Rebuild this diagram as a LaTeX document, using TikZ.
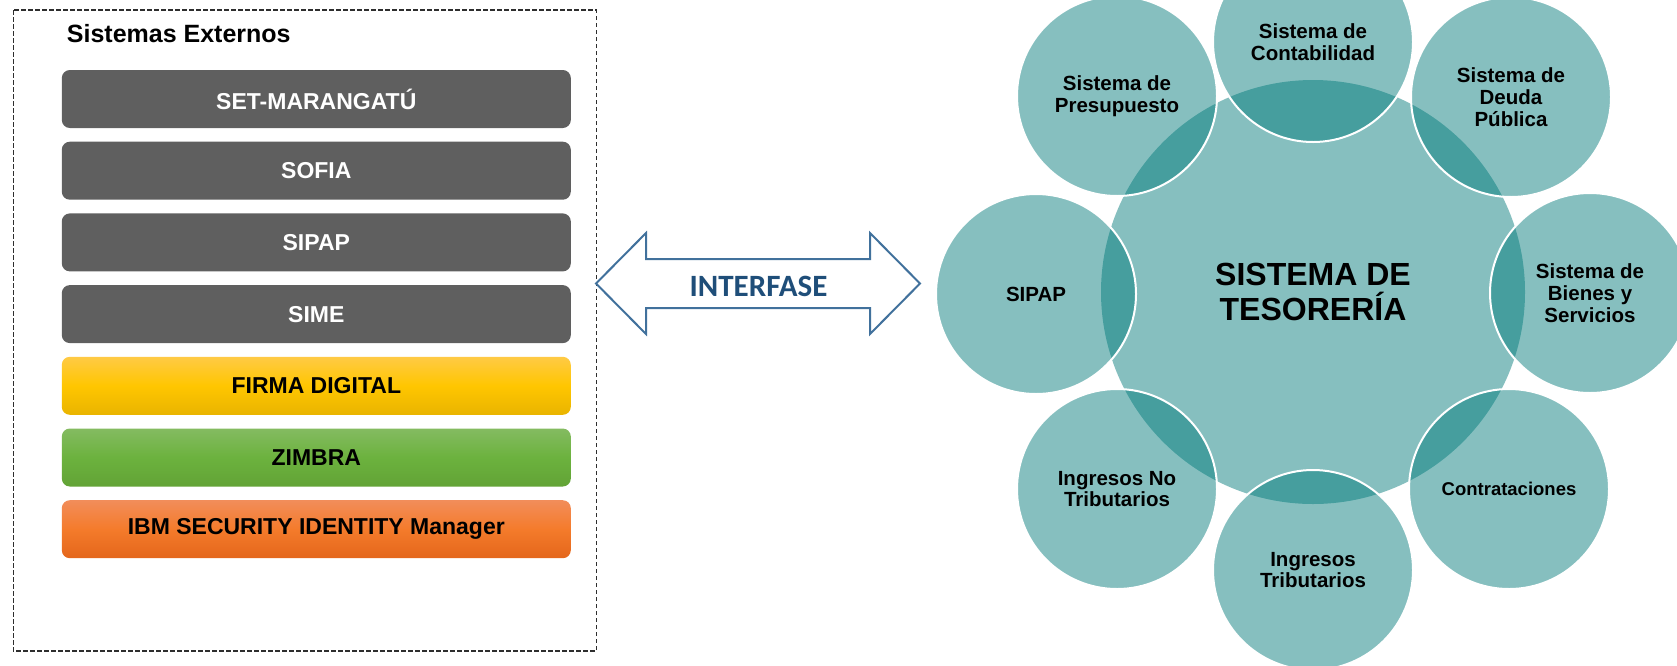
\documentclass[tikz,border=0pt]{standalone}
\usepackage{fontspec}
\setmainfont{Liberation Sans}
\newfontfamily\calibrifont{Carlito}
\usetikzlibrary{positioning}

\definecolor{boxgray}{HTML}{5F5F5F}
\definecolor{circfill}{RGB}{0,121,121}
\definecolor{arrowline}{HTML}{41719C}
\definecolor{arrowtext}{HTML}{1F4E79}
\definecolor{framegray}{HTML}{2E2E2E}
\definecolor{yelTop}{HTML}{FFCA45}
\definecolor{yelMid}{HTML}{FFC600}
\definecolor{yelBot}{HTML}{E9B400}
\definecolor{grnTop}{HTML}{84BB61}
\definecolor{grnMid}{HTML}{6CB23E}
\definecolor{grnBot}{HTML}{62A336}
\definecolor{orgTop}{HTML}{F28D5A}
\definecolor{orgMid}{HTML}{F47B2B}
\definecolor{orgBot}{HTML}{E4661B}

\begin{document}
\begin{tikzpicture}[x=1pt,y=-1pt,node distance=13.3pt]

      \tikzstyle{sysbox}=[shape=rectangle,rounded corners=8pt,minimum width=509pt,minimum height=58pt,inner sep=0pt,align=center,font=\fontsize{23}{26}\selectfont\bfseries]
      \tikzstyle{graybox}=[sysbox,fill=boxgray,text=white]
      \tikzstyle{sat}=[shape=circle,minimum size=200pt,inner sep=0pt,align=center,fill=circfill,fill opacity=0.476,text opacity=1,draw=white,line width=2pt,font=\fontsize{20.5}{21.7}\selectfont\bfseries]

      \useasboundingbox (0,0) rectangle (1677,665);

      % external systems
      \draw[framegray,line width=1.2pt,dash pattern=on 4.5pt off 2.5pt] (13.3,10) rectangle (596.5,651);
      \node[anchor=base west,inner sep=0pt,font=\fontsize{25}{28}\selectfont\bfseries] (title) at (66.7,42.7) {Sistemas Externos};

      \node[graybox] (set) at (316.3,99) {SET-MARANGATÚ};
      \node[graybox] (sofia) [below=of set] {SOFIA};
      \node[graybox] (sipapbox) [below=of sofia] {SIPAP};
      \node[graybox] (sime) [below=of sipapbox] {SIME};
      \node[sysbox,top color=yelTop,bottom color=yelBot,middle color=yelMid] (firma) [below=of sime] {FIRMA DIGITAL};
      \node[sysbox,top color=grnTop,bottom color=grnBot,middle color=grnMid] (zimbra) [below=of firma] {ZIMBRA};
      \node[sysbox,top color=orgTop,bottom color=orgBot,middle color=orgMid] (ibm) [below=of zimbra] {IBM SECURITY IDENTITY Manager};

      % interfase arrow
      \coordinate (aL) at (596,283.5);
      \coordinate (aR) at (920,283.5);
      \draw[arrowline,line width=2pt,fill=white,line join=miter] (aL) -- (646,233) -- (646,259) -- (870,259) -- (870,233) -- (aR) -- (870,334) -- (870,308) -- (646,308) -- (646,334) -- cycle;
      \node[font=\calibrifont\fontsize{31}{34}\selectfont\bfseries,text=arrowtext] (iface) at (758.5,286) {INTERFASE};

      % treasury system
      \node[sat,draw=none,minimum size=424pt,font=\fontsize{32}{35}\selectfont\bfseries] (tes) at (1313,292) {SISTEMA DE\\TESORERÍA};

      \node[sat] (cont) at (1313,42) {Sistema de\\Contabilidad};
      \node[sat] (pres) at (1117,96) {Sistema de\\Presupuesto};
      \node[sat] (deuda) at (1511,97) {Sistema de\\Deuda\\Pública};
      \node[sat] (sipap) at (1036,294) {SIPAP};
      \node[sat] (bienes) at (1590,293) {Sistema de\\Bienes y\\Servicios};
      \node[sat] (ingno) at (1117,489) {Ingresos No\\Tributarios};
      \node[sat,font=\fontsize{18.5}{20}\selectfont\bfseries] (contr) at (1509,489) {Contrataciones};
      \node[sat] (ingtr) at (1313,570) {Ingresos\\Tributarios};

\end{tikzpicture}
\end{document}
